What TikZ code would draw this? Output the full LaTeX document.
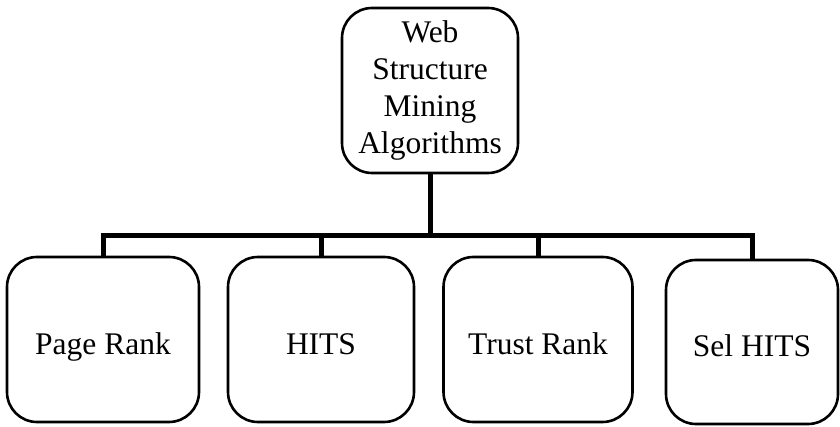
\documentclass[tikz,border=0pt]{standalone}
\usepackage{fontspec}
\setmainfont{Liberation Serif}
\begin{document}
\begin{tikzpicture}[x=1pt,y=1pt,
  catbox/.style={draw=black, line width=2.6pt, rounded corners=30pt, align=center,
    inner sep=0pt, font=\fontsize{31.5}{37}\selectfont},
  leafbox/.style={catbox, minimum height=165pt, text height=36pt, text depth=7pt},
  link/.style={draw=black, line width=5pt}]
  \useasboundingbox (0,0) rectangle (840,-427);
  % root category
  \node[catbox, minimum width=176pt, minimum height=165pt] (root) at (430,-90.5)
    {Web\\Structure\\Mining\\Algorithms};
  % algorithm boxes
  \node[leafbox, minimum width=192pt] (pr) at (103,-339.5) {Page Rank};
  \node[leafbox, minimum width=186pt] (hits) at (321,-339.5) {HITS};
  \node[leafbox, minimum width=189pt] (tr) at (538,-339.5) {Trust Rank};
  \node[leafbox, minimum width=172pt, minimum height=164pt] (sel) at (752,-342) {Sel HITS};
  % bus line joining the tree
  \coordinate (bus) at (0,-236);
  \draw[link] (root.south) -- (root.south |- bus);
  \draw[link] (pr.north) -- (pr.north |- bus) -- (sel.north |- bus) -- (sel.north);
  \draw[link] (hits.north) -- (hits.north |- bus);
  \draw[link] (tr.north) -- (tr.north |- bus);
\end{tikzpicture}
\end{document}
